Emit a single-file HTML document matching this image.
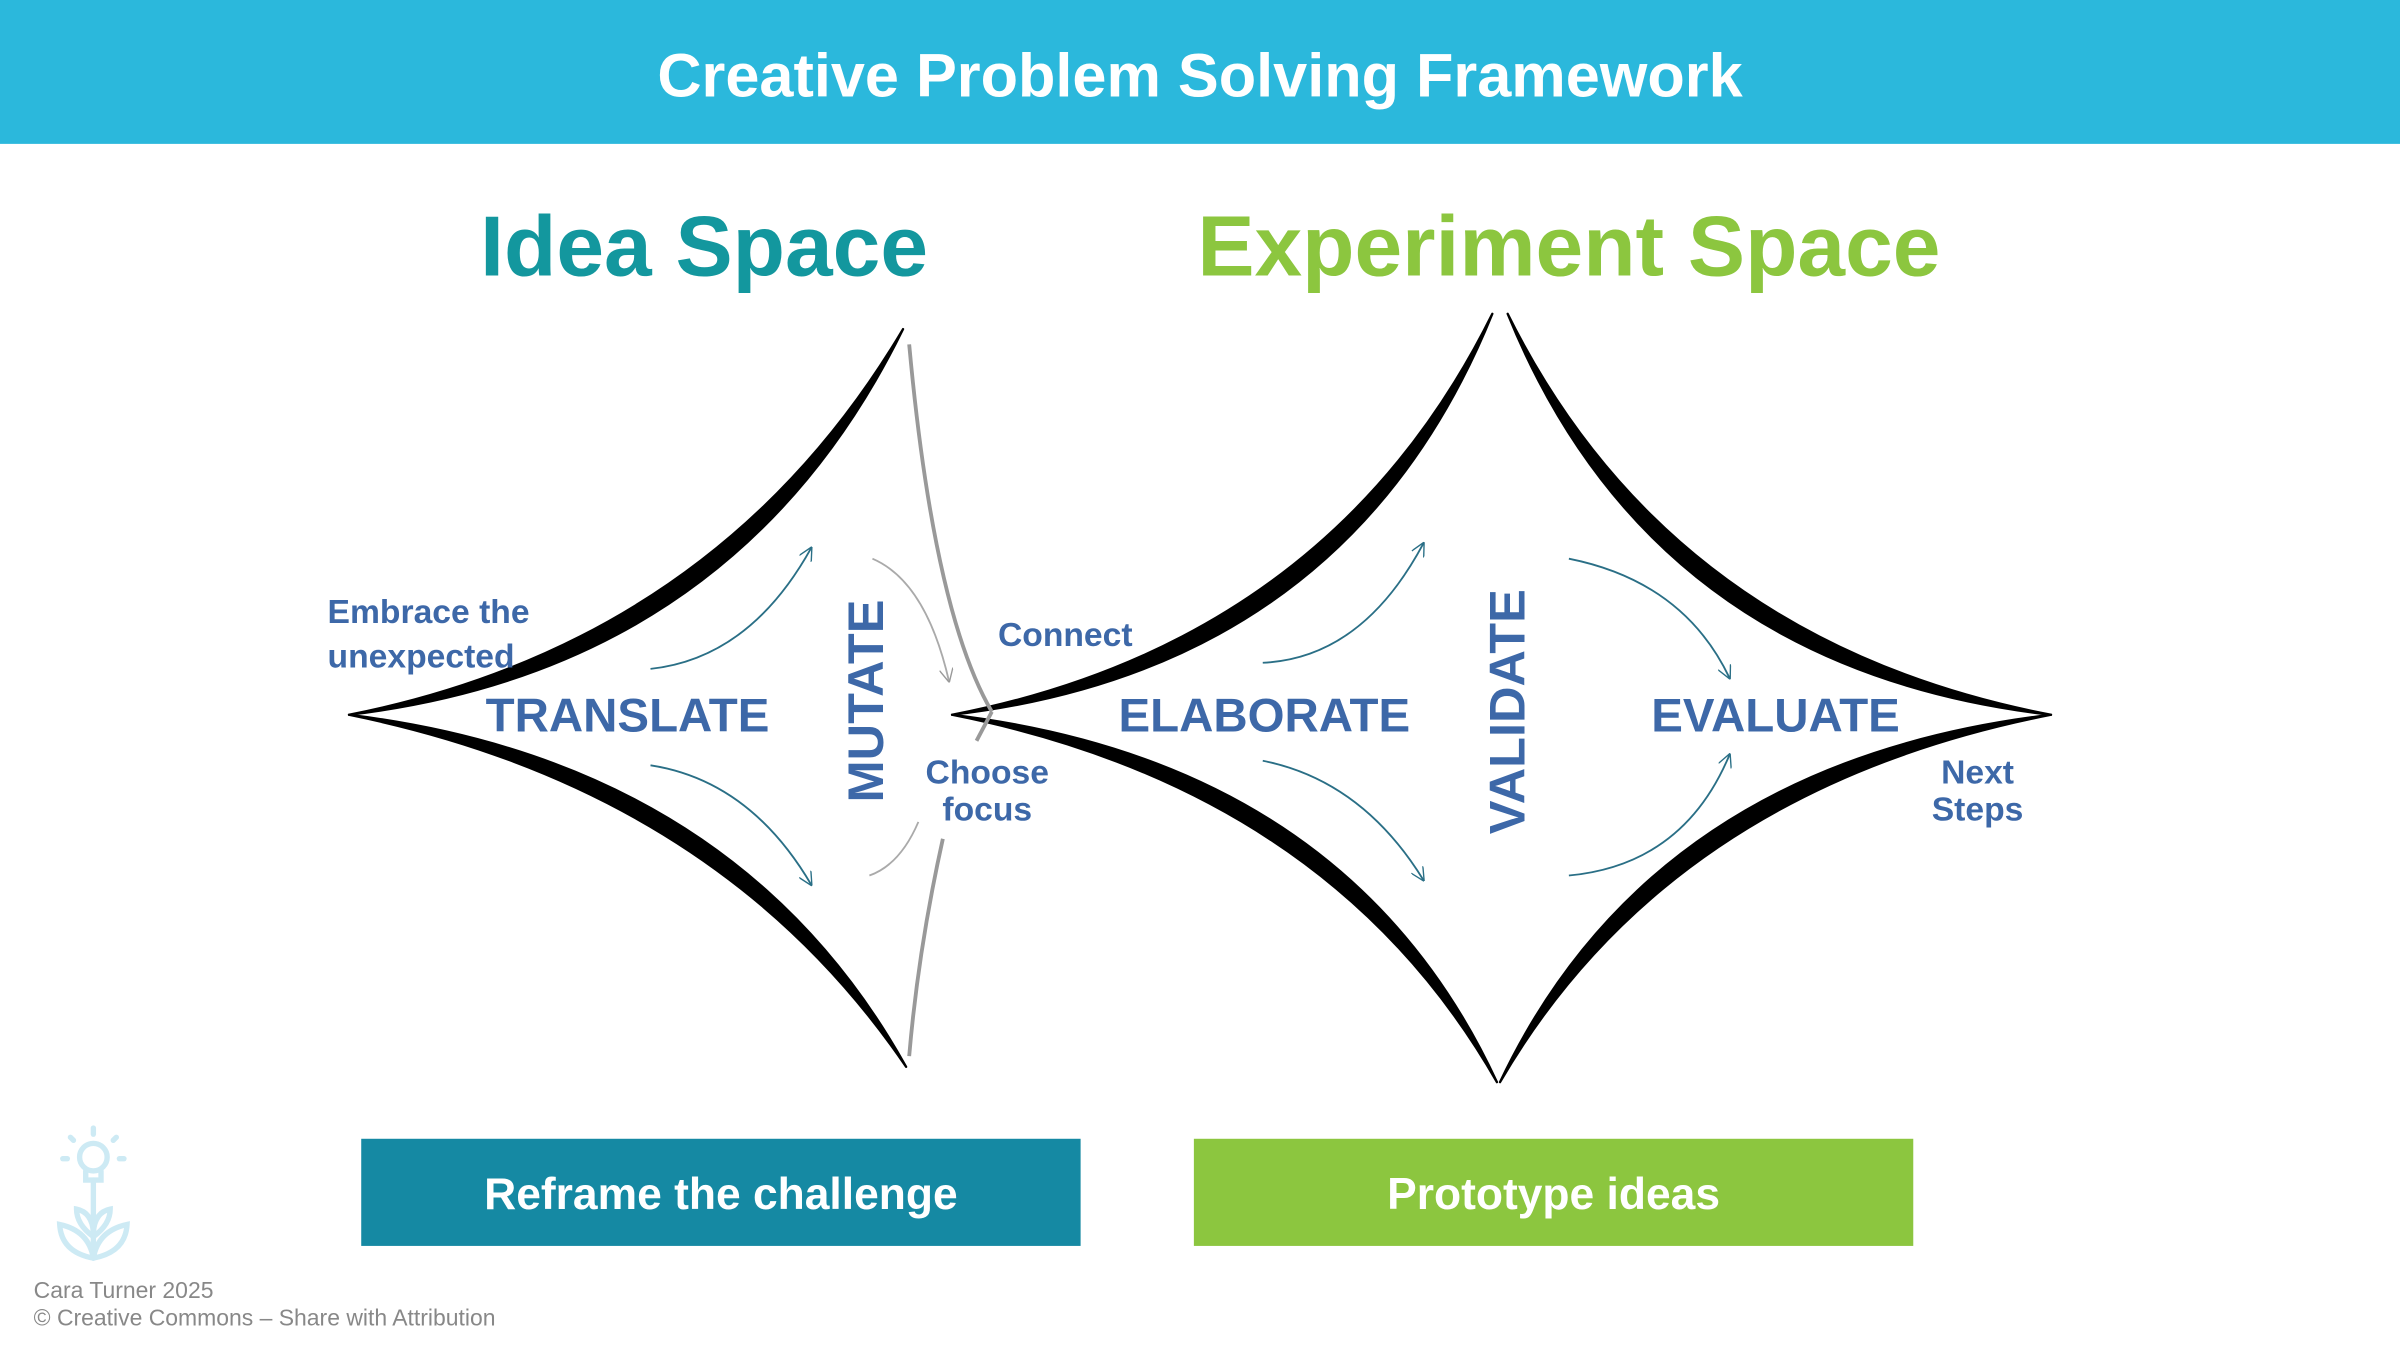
<!DOCTYPE html>
<html><head><meta charset="utf-8"><style>
html,body{margin:0;padding:0;background:#fff;}
svg{display:block;}
text{font-family:"Liberation Sans",sans-serif;}
</style></head><body>
<svg width="2400" height="1350" viewBox="0 0 1568 882" xmlns="http://www.w3.org/2000/svg">
<defs>
<marker id="ah" viewBox="0 0 10 10" refX="9" refY="5" markerWidth="9" markerHeight="9" orient="auto" markerUnits="userSpaceOnUse">
<path d="M0,0 L10,5 L0,10" fill="none" stroke="#2a6f86" stroke-width="1"/></marker>
<marker id="ag" viewBox="0 0 10 10" refX="9" refY="5" markerWidth="9" markerHeight="9" orient="auto" markerUnits="userSpaceOnUse">
<path d="M0,0 L10,5 L0,10" fill="none" stroke="#999" stroke-width="1"/></marker>
</defs>
<rect x="0" y="0" width="1568" height="94" fill="#2bb8dc"/>
<text x="784" y="63" text-anchor="middle" font-size="40" font-weight="bold" fill="#fff">Creative Problem Solving Framework</text>
<text x="460" y="180" text-anchor="middle" font-size="56" font-weight="bold" fill="#13979e">Idea Space</text>
<text x="1025" y="180" text-anchor="middle" font-size="56" font-weight="bold" fill="#8cc63f">Experiment Space</text>

<g fill="#000" stroke="#000" stroke-width="1.5" stroke-linejoin="round">
<path d="M228,467 Q469,419 590,215 Q481,437 228,467 Z"/>
<path d="M228,467 Q469,516 592,697 Q481,498 228,467 Z"/>
<path d="M622,467 Q869,419 975,205 Q881,437 622,467 Z"/>
<path d="M1340,467 Q1091,419 985,205 Q1079,437 1340,467 Z"/>
<path d="M622,467 Q869,516 978,707 Q881,498 622,467 Z"/>
<path d="M1340,467 Q1091,516 980,707 Q1079,498 1340,467 Z"/>
</g>
<g fill="none" stroke="#999" stroke-width="2.5">
<path d="M594,225 Q610,400 648,465"/>
<path d="M648,465 L638,484"/>
<path d="M616,548 Q600,620 594,690"/>
</g>
<g fill="none" stroke="#2a6f86" stroke-width="1.2" marker-end="url(#ah)">
<path d="M425,437 Q490,430 530,358"/>
<path d="M425,500 Q490,510 530,578"/>
<path d="M825,433 Q890,430 930,355"/>
<path d="M825,497 Q890,510 930,575"/>
<path d="M1025,365 Q1100,380 1130,443"/>
<path d="M1025,572 Q1100,565 1130,493"/>
</g>
<g fill="none" stroke="#aaa" stroke-width="1.2">
<path d="M570,365 Q605,380 620,445" marker-end="url(#ag)"/>
<path d="M568,572 Q588,565 600,537"/>
</g>
<g fill="#3d68a8" font-weight="bold">
<text x="410" y="478" text-anchor="middle" font-size="31">TRANSLATE</text>
<text transform="translate(577,458) rotate(-90)" text-anchor="middle" font-size="33">MUTATE</text>
<text x="826" y="478" text-anchor="middle" font-size="31">ELABORATE</text>
<text transform="translate(996,465) rotate(-90)" text-anchor="middle" font-size="33">VALIDATE</text>
<text x="1160" y="478" text-anchor="middle" font-size="31">EVALUATE</text>
<text x="214" y="407" font-size="22">Embrace the</text>
<text x="214" y="436" font-size="22">unexpected</text>
<text x="652" y="422" font-size="22">Connect</text>
<text x="645" y="512" text-anchor="middle" font-size="22">Choose</text>
<text x="645" y="536" text-anchor="middle" font-size="22">focus</text>
<text x="1292" y="512" text-anchor="middle" font-size="22">Next</text>
<text x="1292" y="536" text-anchor="middle" font-size="22">Steps</text>
</g>
<rect x="236" y="744" width="470" height="70" fill="#1589a3"/>
<text x="471" y="790" text-anchor="middle" font-size="29" font-weight="bold" fill="#fff">Reframe the challenge</text>
<rect x="780" y="744" width="470" height="70" fill="#8cc63f"/>
<text x="1015" y="790" text-anchor="middle" font-size="29" font-weight="bold" fill="#fff">Prototype ideas</text>

<g fill="none" stroke="#cdeaf4" stroke-width="3.5" stroke-linecap="round">
<circle cx="61" cy="756" r="9"/>
<path d="M56,765 L56,771 L66,771 L66,765"/>
<path d="M61,771 L61,822"/>
<line x1="61" y1="737" x2="61" y2="741"/>
<line x1="46" y1="743" x2="48" y2="745"/>
<line x1="76" y1="743" x2="74" y2="745"/>
<line x1="41" y1="757" x2="44" y2="757"/>
<line x1="78" y1="757" x2="81" y2="757"/>
<path d="M61,808 Q50,800 50,790 Q60,792 61,805"/>
<path d="M61,808 Q72,800 72,790 Q62,792 61,805"/>
<path d="M61,822 Q40,818 39,800 Q58,804 61,822"/>
<path d="M61,822 Q82,818 83,800 Q64,804 61,822"/>
</g>
<text x="22" y="848" font-size="15" fill="#888">Cara Turner 2025</text>
<text x="22" y="866" font-size="15" fill="#888">© Creative Commons – Share with Attribution</text>
</svg>
</body></html>
